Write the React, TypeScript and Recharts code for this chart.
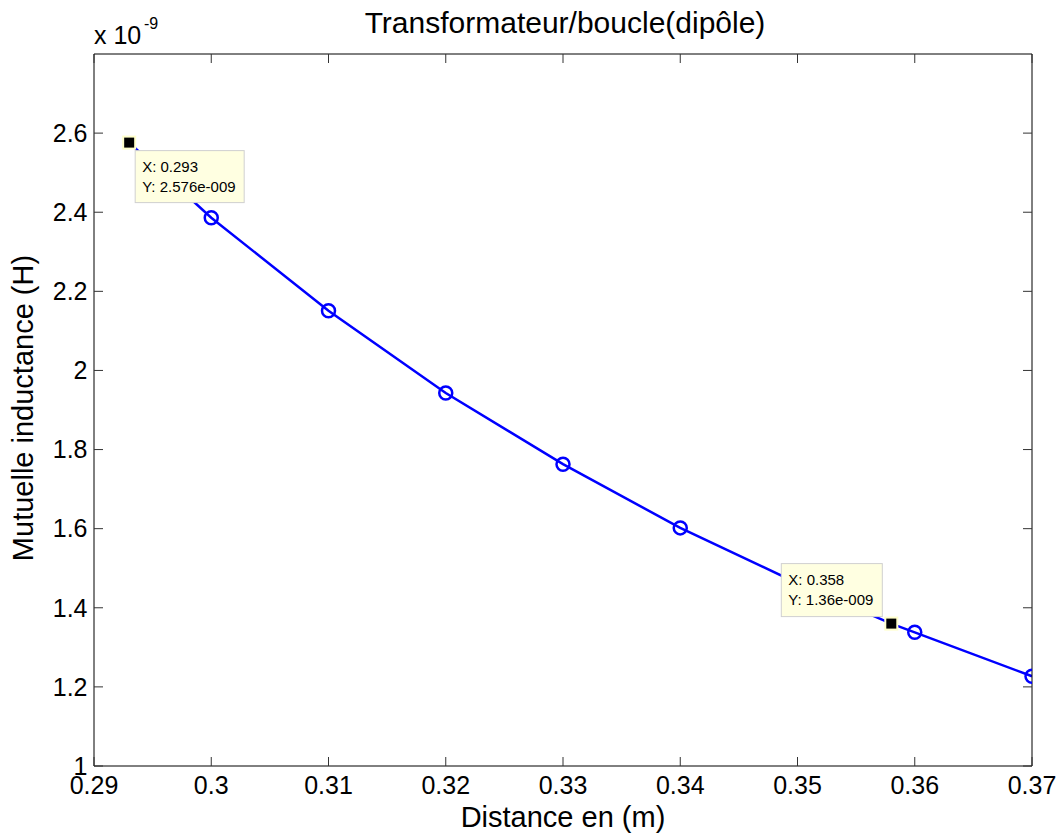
import React from 'react';
import { LineChart, Line, XAxis, YAxis, ReferenceDot } from 'recharts';

// Data (inductance in units of 1e-9 H)
const distances = [0.293, 0.3, 0.31, 0.32, 0.33, 0.34, 0.35, 0.358, 0.36, 0.37];
const inductances = [2.576, 2.386, 2.151, 1.943, 1.763, 1.602, 1.462, 1.36, 1.338, 1.227];
const hasMarker = [false, true, true, true, true, true, true, false, true, true];

const xTicks = [0.29, 0.3, 0.31, 0.32, 0.33, 0.34, 0.35, 0.36, 0.37];
const xTickLabels = ['0.29', '0.3', '0.31', '0.32', '0.33', '0.34', '0.35', '0.36', '0.37'];
const yTicks = [1, 1.2, 1.4, 1.6, 1.8, 2, 2.2, 2.4, 2.6];
const yTickLabels = ['1', '1.2', '1.4', '1.6', '1.8', '2', '2.2', '2.4', '2.6'];

const tipX = [0.293, 0.358];
const tipY = [2.576, 1.36];
const tipTextX = ['X: 0.293', 'X: 0.358'];
const tipTextY = ['Y: 2.576e-009', 'Y: 1.36e-009'];

const titleText = 'Transformateur/boucle(dipôle)';
const xLabelText = 'Distance en (m)';
const yLabelText = 'Mutuelle inductance (H)';

const data = distances.map((d, i) => ({ x: d, y: inductances[i], m: hasMarker[i] }));

const FONT = '"Liberation Sans", Arial, Helvetica, sans-serif';
const BLUE = '#0000ff';
const TICK = 9;
const TICK_FONT = 25;

const BottomTick = (props: any) => {
  const { x, y, payload } = props;
  const i = xTicks.indexOf(payload.value);
  return (
    <g>
      <line x1={x} y1={y} x2={x} y2={y - TICK} stroke="#333" strokeWidth={1} />
      <text x={x} y={y + 28} textAnchor="middle" fontSize={TICK_FONT} fontFamily={FONT} fill="#000">
        {i >= 0 ? xTickLabels[i] : String(payload.value)}
      </text>
    </g>
  );
};

const TopTick = (props: any) => {
  const { x, y } = props;
  return <line x1={x} y1={y} x2={x} y2={y + TICK} stroke="#333" strokeWidth={1} />;
};

const LeftTick = (props: any) => {
  const { x, y, payload } = props;
  const i = yTicks.indexOf(payload.value);
  return (
    <g>
      <line x1={x} y1={y} x2={x + TICK} y2={y} stroke="#333" strokeWidth={1} />
      <text x={x - 6.5} y={y + 8.8} textAnchor="end" fontSize={TICK_FONT} fontFamily={FONT} fill="#000">
        {i >= 0 ? yTickLabels[i] : String(payload.value)}
      </text>
    </g>
  );
};

const RightTick = (props: any) => {
  const { x, y } = props;
  return <line x1={x} y1={y} x2={x - TICK} y2={y} stroke="#333" strokeWidth={1} />;
};

const MarkerDot = (props: any) => {
  const { cx, cy, payload, index } = props;
  if (!payload || !payload.m) return <g key={`d${index}`} />;
  return <circle key={`d${index}`} cx={cx} cy={cy} r={6.5} fill="none" stroke={BLUE} strokeWidth={2.5} />;
};

const makeTip = (k: number) => (props: any) => {
  const { cx, cy } = props;
  const w = k === 0 ? 109 : 101;
  const h = k === 0 ? 52 : 53;
  const bx = k === 0 ? cx + 6 : cx - 110;
  const by = k === 0 ? cy + 8 : cy - 60;
  return (
    <g>
      <rect x={bx} y={by} width={w} height={h} fill="#ffffe1" stroke="#d0d0d0" strokeWidth={1} />
      <text x={bx + 7} y={by + 21} fontSize={15} fontFamily={FONT} fill="#000">{tipTextX[k]}</text>
      <text x={bx + 7} y={by + 41} fontSize={15} fontFamily={FONT} fill="#000">{tipTextY[k]}</text>
      <rect x={cx - 6} y={cy - 6} width={12} height={12} fill="#000" stroke="#ffffcc" strokeWidth={2} />
    </g>
  );
};

const TitleLabel = (props: any) => {
  const vb = props.viewBox || {};
  const cx = vb.x + vb.width / 2;
  return (
    <g>
      <text x={cx + 2} y={33} textAnchor="middle" fontSize={30} fontFamily={FONT} fill="#000">{titleText}</text>
      <text x={vb.x} y={44} fontSize={TICK_FONT} fontFamily={FONT} fill="#000">x 10</text>
      <text x={vb.x + 50} y={29} fontSize={16} fontFamily={FONT} fill="#000">-9</text>
    </g>
  );
};

const XLabel = (props: any) => {
  const vb = props.viewBox || {};
  return (
    <text x={vb.x + vb.width / 2} y={vb.y + 61} textAnchor="middle" fontSize={29} fontFamily={FONT} fill="#000">
      {xLabelText}
    </text>
  );
};

const YLabel = (props: any) => {
  const vb = props.viewBox || {};
  const cy = vb.y + vb.height / 2 - 2;
  return (
    <text x={33} y={cy} transform={`rotate(-90 33 ${cy})`} textAnchor="middle" fontSize={29} fontFamily={FONT} fill="#000">
      {yLabelText}
    </text>
  );
};

export default function App() {
  return (
    <div style={{ position: 'absolute', left: 0, top: 0, width: 1061, height: 834, background: '#fff' }}>
      <LineChart width={1061} height={834} data={data} margin={{ top: 53, right: 28, bottom: 0, left: 0 }}>
        <XAxis
          dataKey="x"
          type="number"
          domain={[0.29, 0.37]}
          ticks={xTicks}
          allowDataOverflow
          height={68}
          tickSize={0}
          tickMargin={0}
          tickLine={false}
          axisLine={{ stroke: '#000', strokeWidth: 1 }}
          tick={BottomTick}
          interval={0}
          label={<XLabel />}
        />
        <XAxis
          xAxisId="top"
          orientation="top"
          dataKey="x"
          type="number"
          domain={[0.29, 0.37]}
          ticks={xTicks}
          allowDataOverflow
          height={1}
          tickSize={0}
          tickMargin={0}
          tickLine={false}
          axisLine={{ stroke: '#000', strokeWidth: 1 }}
          tick={TopTick}
          interval={0}
          label={<TitleLabel />}
        />
        <YAxis
          type="number"
          domain={[1, 2.8]}
          ticks={yTicks}
          allowDataOverflow
          width={94}
          tickSize={0}
          tickMargin={0}
          tickLine={false}
          axisLine={{ stroke: '#000', strokeWidth: 1 }}
          tick={LeftTick}
          interval={0}
          label={<YLabel />}
        />
        <YAxis
          yAxisId="right"
          orientation="right"
          type="number"
          domain={[1, 2.8]}
          ticks={yTicks}
          allowDataOverflow
          width={1}
          tickSize={0}
          tickMargin={0}
          tickLine={false}
          axisLine={{ stroke: '#000', strokeWidth: 1 }}
          tick={RightTick}
          interval={0}
        />
        <Line
          xAxisId="top"
          yAxisId="right"
          type="linear"
          dataKey="y"
          stroke="none"
          strokeWidth={0}
          dot={false}
          activeDot={false}
          legendType="none"
          isAnimationActive={false}
        />
        <Line
          type="linear"
          dataKey="y"
          stroke={BLUE}
          strokeWidth={2.5}
          dot={MarkerDot}
          activeDot={false}
          isAnimationActive={false}
        />
        {tipX.map((tx, k) => (
          <ReferenceDot key={k} x={tx} y={tipY[k]} r={5} ifOverflow="visible" shape={makeTip(k)} />
        ))}
      </LineChart>
    </div>
  );
}
